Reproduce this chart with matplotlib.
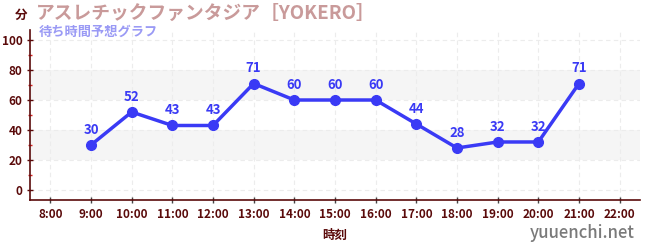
import matplotlib
matplotlib.use("Agg")
from matplotlib import pyplot as plt
from matplotlib.ticker import MultipleLocator

plt.rcParams['font.family'] = ['Noto Sans CJK JP', 'DejaVu Sans']

# data
hours = [9, 10, 11, 12, 13, 14, 15, 16, 17, 18, 19, 20, 21]
waits = [30, 52, 43, 43, 71, 60, 60, 60, 44, 28, 32, 32, 71]
tick_hours = list(range(8, 23))
tick_labels = ["%d:00" % h for h in tick_hours]
y_ticks = [0, 20, 40, 60, 80, 100]

title = "アスレチックファンタジア［YOKERO］"
subtitle = "待ち時間予想グラフ"

axis_col = "#5a0a0a"
line_col = "#3a3af5"

fig = plt.figure(figsize=(6.5, 2.5), dpi=100)
ax = fig.add_axes([30 / 650, 50 / 250, 610 / 650, 170 / 250])

ax.set_xlim(7.5, 22.5)
ax.set_ylim(-6.7, 106.7)

# shaded bands
for lo, hi in [(20, 40), (60, 80)]:
    ax.axhspan(lo, hi, color="#f5f5f5", zorder=0, lw=0)

ax.set_xticks(tick_hours)
ax.set_xticklabels(tick_labels)
ax.set_yticks(y_ticks)
ax.yaxis.set_minor_locator(MultipleLocator(10))
ax.grid(True, which="major", color="#ececec", ls=(0, (4, 3)), lw=0.8, zorder=0)

for side in ["top", "right"]:
    ax.spines[side].set_visible(False)
for side in ["left", "bottom"]:
    ax.spines[side].set_color(axis_col)
    ax.spines[side].set_linewidth(1.2)

ax.tick_params(axis="both", which="major", colors=axis_col, labelsize=8.5, length=4, width=1, direction="inout")
ax.tick_params(axis="y", which="minor", colors="#dd2222", length=3, width=1, direction="inout")
ax.tick_params(axis="x", which="major", color="#444444")
for lab in ax.get_xticklabels() + ax.get_yticklabels():
    lab.set_fontweight("bold")
    lab.set_color(axis_col)

ax.plot(hours, waits, color=line_col, lw=2.5, marker="o", ms=7, zorder=3)
for h, w in zip(hours, waits):
    ax.annotate(str(w), (h, w), xytext=(0, 6), textcoords="offset points",
                ha="center", va="bottom", color=line_col, fontsize=9.5, fontweight="bold")

ax.set_xlabel("時刻", color=axis_col, fontsize=9, fontweight="bold", labelpad=6)

fig.text(15 / 650, 1 - 15 / 250, "分", color=axis_col, fontsize=9, fontweight="bold", ha="left", va="center")
fig.text(36 / 650, 1 - 13 / 250, title, color="#c99a9a", fontsize=13.5, fontweight="bold", ha="left", va="center")
fig.text(39 / 650, 1 - 32 / 250, subtitle, color="#9a9af5", fontsize=9.5, fontweight="bold", ha="left", va="center")
fig.text(635 / 650, 1 - 233 / 250, "yuuenchi.net", color="#7a7a7a", fontsize=12, fontweight="medium", ha="right", va="center")

fig.savefig("out.png", dpi=100)
